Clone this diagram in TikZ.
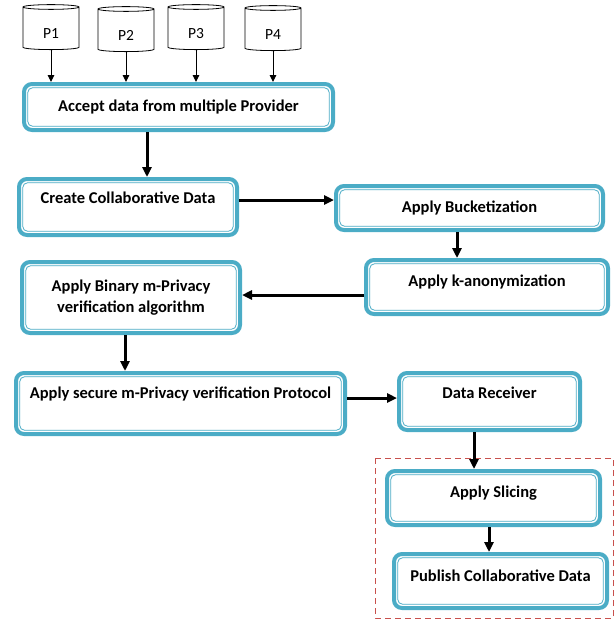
\documentclass[tikz,border=0pt]{standalone}
\usepackage{fontspec}
\setmainfont{Carlito}
\usetikzlibrary{shapes.geometric,arrows.meta}
\definecolor{boxblue}{RGB}{75,172,198}
\definecolor{dashred}{RGB}{200,80,77}
\tikzset{
  stage/.style={draw=boxblue, line width=4pt, rounded corners=8pt, fill=white,
    font=\bfseries\fontsize{16.5}{21}\selectfont, align=center, anchor=north west, inner sep=0pt,
    path picture={\draw[boxblue, line width=0.8pt, rounded corners=5pt]
      ([shift={(3.7pt,-3.7pt)}]path picture bounding box.north west) rectangle
      ([shift={(-3.7pt,3.7pt)}]path picture bounding box.south east);}},
  store/.style={cylinder, shape border rotate=90, aspect=0.3, draw, line width=0.8pt,
    fill=white, minimum width=56pt, minimum height=45pt, inner sep=0pt,
    text height=19pt, text depth=0pt, font=\fontsize{15.5}{18}\selectfont},
  feed/.style={-{Triangle[length=7pt,width=6.5pt]}, line width=1pt},
  flow/.style={-{Triangle[length=10pt,width=9pt]}, line width=3pt},
}
\begin{document}
\begin{tikzpicture}[x=1pt,y=-1pt]
  \useasboundingbox (0,0) rectangle (614,622);
  % providers
  \node[store] (p1) at (51,28.5) {P1};
  \node[store] (p2) at (126,30.5) {P2};
  \node[store] (p3) at (196,28.5) {P3};
  \node[store] (p4) at (273,29.5) {P4};
  % stages
  \node[stage, minimum width=309pt, minimum height=46pt] (accept) at (22,82)
    {Accept data from multiple Provider};
  \node[stage, minimum width=218pt, minimum height=56pt, text depth=18pt] (create) at (17,177)
    {Create Collaborative Data};
  \node[stage, minimum width=267pt, minimum height=44pt] (bucket) at (334,184)
    {Apply Bucketization};
  \node[stage, minimum width=242pt, minimum height=54pt, text depth=12pt] (kanon) at (364,258)
    {Apply k-anonymization};
  \node[stage, minimum width=218pt, minimum height=71pt] (binary) at (20,260)
    {Apply Binary m-Privacy\\verification algorithm};
  \node[stage, minimum width=329pt, minimum height=61pt, text depth=22pt] (secure) at (14,371)
    {Apply secure m-Privacy verification Protocol};
  \node[stage, minimum width=181pt, minimum height=57pt, text depth=18pt] (receiver) at (397,371)
    {Data Receiver};
  % slicing group
  \draw[dashred, dash pattern=on 6pt off 4pt, line width=0.8pt] (375,458) rectangle (613,618);
  \node[stage, minimum width=213pt, minimum height=54pt, text depth=12pt] (slicing) at (385,469)
    {Apply Slicing};
  \node[stage, minimum width=213pt, minimum height=54pt, text depth=10pt] (publish) at (392,552)
    {Publish Collaborative Data};
  % arrows
  \foreach \p in {p1,p2,p3,p4}
    \draw[feed] (\p.south) -- (\p.south |- accept.north);
  \draw[flow] ([xshift=-31.5pt]accept.south) -- ([xshift=-31.5pt]accept.south |- create.north);
  \draw[flow] ([yshift=7pt]create.east) -- ([yshift=7pt]create.east -| bucket.west);
  \draw[flow] ([xshift=-12.5pt]bucket.south) -- ([xshift=-12.5pt]bucket.south |- kanon.north);
  \draw[flow] ([yshift=-8pt]kanon.west) -- ([yshift=-8pt]kanon.west -| binary.east);
  \draw[flow] ([xshift=-6pt]binary.south) -- ([xshift=-6pt]binary.south |- secure.north);
  \draw[flow] ([yshift=5.5pt]secure.east) -- ([yshift=5.5pt]secure.east -| receiver.west);
  \draw[flow] ([xshift=-15.5pt]receiver.south) -- ([xshift=-15.5pt]receiver.south |- slicing.north);
  \draw[flow] ([xshift=-4.5pt]slicing.south) -- ([xshift=-4.5pt]slicing.south |- publish.north);
\end{tikzpicture}
\end{document}
